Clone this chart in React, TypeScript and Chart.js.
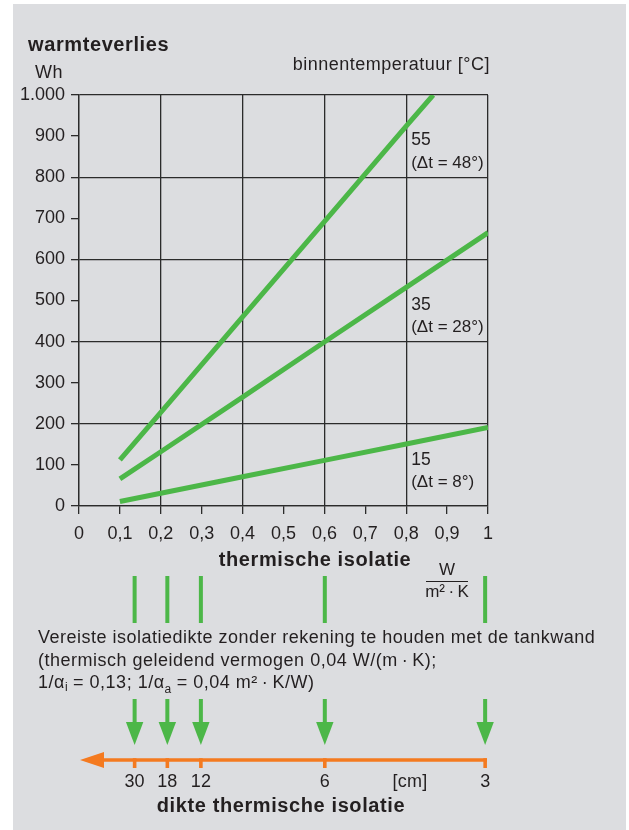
import { useEffect, useRef } from 'react';
import { Chart, registerables } from 'chart.js';

Chart.register(...registerables);

// ---- data ----
const x55 = [0.1, 0.2, 0.4, 0.6, 0.8, 0.866];
const loss55 = [112, 228, 460, 692, 924, 1000];
const x35 = [0.1, 0.2, 0.4, 0.6, 0.8, 1.0];
const loss35 = [66, 132, 265, 399, 532, 665];
const x15 = [0.1, 0.2, 0.4, 0.6, 0.8, 1.0];
const loss15 = [11, 31, 71, 111, 151, 191];

const seriesTemp = ['55', '35', '15'];
const seriesDelta = ['(Δt = 48°)', '(Δt = 28°)', '(Δt = 8°)'];
const labelAnchorX = 0.8;
const labelValueTop = [890, 489, 112];
const labelValueBottom = [835, 435, 58];

const thicknessU = [0.136, 0.216, 0.298, 0.601, 0.993];
const thicknessCm = ['30', '18', '12', '6', '3'];

const paragraphLines = [
  'Vereiste isolatiedikte zonder rekening te houden met de tankwand',
  '(thermisch geleidend vermogen 0,04 W/(m\u2009·\u2009K);',
];

// ---- styles ----
const GREEN = '#4cb748';
const ORANGE = '#f47a20';
const TEXT = '#231f20';
const GRID = '#2b2b2b';
const PANEL = '#dcdde0';
const FONT = '"Liberation Sans", Arial, Helvetica, sans-serif';

function setFont(ctx: CanvasRenderingContext2D, size: number, bold = false, spacing = 0) {
  ctx.font = `${bold ? 'bold ' : ''}${size}px ${FONT}`;
  (ctx as any).letterSpacing = `${spacing}px`;
}

function text(
  ctx: CanvasRenderingContext2D,
  s: string,
  x: number,
  y: number,
  size: number,
  align: CanvasTextAlign = 'left',
  bold = false,
  spacing = 0
) {
  setFont(ctx, size, bold, spacing);
  ctx.textAlign = align;
  ctx.textBaseline = 'middle';
  ctx.fillStyle = TEXT;
  ctx.fillText(s, x, y);
}

function runs(ctx: CanvasRenderingContext2D, parts: [string, number, number][], x: number, y: number) {
  let cx = x;
  ctx.textAlign = 'left';
  ctx.textBaseline = 'middle';
  ctx.fillStyle = TEXT;
  for (const [s, size, dy] of parts) {
    setFont(ctx, size, false, size > 14 ? 0.5 : 0);
    ctx.fillText(s, cx, y + dy);
    cx += ctx.measureText(s).width;
  }
}

const bgPlugin = {
  id: 'bg',
  beforeDraw(chart: any) {
    const ctx = chart.ctx as CanvasRenderingContext2D;
    ctx.save();
    ctx.fillStyle = '#ffffff';
    ctx.fillRect(0, 0, chart.width, chart.height);
    ctx.fillStyle = PANEL;
    ctx.fillRect(13, 4, 613, chart.height - 4);
    ctx.restore();
  },
};

const drawPlugin = {
  id: 'extras',
  afterDraw(chart: any) {
    const ctx = chart.ctx as CanvasRenderingContext2D;
    const xs = chart.scales.x;
    const ys = chart.scales.y;
    ctx.save();

    // titles
    text(ctx, 'warmteverlies', 28, 45, 20, 'left', true, 0.6);
    text(ctx, 'Wh', 35, 73, 18, 'left', false, 0.5);
    text(ctx, 'binnentemperatuur [°C]', 490, 65, 18, 'right', false, 0.5);

    // series labels
    const lx = xs.getPixelForValue(labelAnchorX) + 5;
    for (let i = 0; i < seriesTemp.length; i++) {
      text(ctx, seriesTemp[i], lx, ys.getPixelForValue(labelValueTop[i]), 17.5, 'left', false, 0);
      text(ctx, seriesDelta[i], lx, ys.getPixelForValue(labelValueBottom[i]), 17, 'left', false, 0);
    }

    // x axis title + unit fraction
    text(ctx, 'thermische isolatie', 315, 560, 20, 'center', true, 0.6);
    text(ctx, 'W', 447, 570, 17, 'center');
    ctx.strokeStyle = TEXT;
    ctx.lineWidth = 1;
    ctx.beginPath();
    ctx.moveTo(426, 581.5);
    ctx.lineTo(468, 581.5);
    ctx.stroke();
    text(ctx, 'm²\u2009·\u2009K', 447, 592, 17, 'center');

    // green connectors and arrows
    ctx.strokeStyle = GREEN;
    ctx.fillStyle = GREEN;
    for (const u of thicknessU) {
      const px = xs.getPixelForValue(u);
      ctx.lineWidth = 4;
      ctx.beginPath();
      ctx.moveTo(px, 576);
      ctx.lineTo(px, 623);
      ctx.moveTo(px, 699);
      ctx.lineTo(px, 724);
      ctx.stroke();
      ctx.beginPath();
      ctx.moveTo(px - 8.7, 722);
      ctx.lineTo(px + 8.7, 722);
      ctx.lineTo(px, 745);
      ctx.closePath();
      ctx.fill();
    }

    // paragraph
    text(ctx, paragraphLines[0], 38, 638, 18, 'left', false, 0.5);
    text(ctx, paragraphLines[1], 38, 661.5, 18, 'left', false, 0.5);
    runs(
      ctx,
      [
        ['1/α', 18, 0],
        ['i', 12, 4],
        [' = 0,13; 1/α', 18, 0],
        ['a', 12, 6],
        [' = 0,04 m²\u2009·\u2009K/W)', 18, 0],
      ],
      38,
      683.5
    );

    // orange thickness axis
    const right = xs.getPixelForValue(thicknessU[thicknessU.length - 1]);
    ctx.strokeStyle = ORANGE;
    ctx.fillStyle = ORANGE;
    ctx.lineWidth = 3.6;
    ctx.lineCap = 'butt';
    ctx.beginPath();
    ctx.moveTo(100, 760);
    ctx.lineTo(right + 1.8, 760);
    ctx.stroke();
    ctx.beginPath();
    ctx.moveTo(80, 760);
    ctx.lineTo(104, 752);
    ctx.lineTo(104, 768);
    ctx.closePath();
    ctx.fill();
    for (const u of thicknessU) {
      const px = xs.getPixelForValue(u);
      ctx.beginPath();
      ctx.moveTo(px, 758.2);
      ctx.lineTo(px, 768);
      ctx.stroke();
    }
    for (let i = 0; i < thicknessU.length; i++) {
      text(ctx, thicknessCm[i], xs.getPixelForValue(thicknessU[i]), 782.5, 18, 'center');
    }
    text(ctx, '[cm]', 410, 782.5, 18, 'center', false, 0.3);
    text(ctx, 'dikte thermische isolatie', 281, 806.5, 20, 'center', true, 0.6);

    ctx.restore();
  },
};

function makeSet(xv: number[], yv: number[]) {
  return {
    data: xv.map((x, i) => ({ x, y: yv[i] })),
    showLine: true,
    borderColor: GREEN,
    backgroundColor: GREEN,
    borderWidth: 5,
    pointRadius: 0,
    borderCapStyle: 'butt' as const,
    clip: 0,
    tension: 0,
  };
}

const evenX = (c: any) => (Math.round((c.tick?.value ?? 0) * 10) % 2 === 0 ? GRID : 'rgba(0,0,0,0)');
const evenY = (c: any) => (Math.round((c.tick?.value ?? 0) / 100) % 2 === 0 ? GRID : 'rgba(0,0,0,0)');

export default function App() {
  const ref = useRef<HTMLCanvasElement>(null);

  useEffect(() => {
    if (!ref.current) return;
    const chart = new Chart(ref.current, {
      type: 'scatter',
      data: {
        datasets: [makeSet(x55, loss55), makeSet(x35, loss35), makeSet(x15, loss15)] as any,
      },
      options: {
        animation: false,
        responsive: false,
        events: [],
        layout: { padding: { left: 0, top: 95, right: 629 - 488, bottom: 830 - 506 - 40 } },
        plugins: { legend: { display: false }, tooltip: { enabled: false } },
        scales: {
          x: {
            type: 'linear',
            min: 0,
            max: 1,
            afterFit: (s: any) => {
              s.height = 40;
            },
            ticks: {
              stepSize: 0.1,
              autoSkip: false,
              maxRotation: 0,
              padding: 9,
              color: TEXT,
              font: { size: 18, family: FONT },
              callback: (v: any) => {
                const n = Math.round(Number(v) * 10);
                if (n === 0) return '0';
                if (n === 10) return '1';
                return '0,' + n;
              },
            },
            grid: { color: evenX, tickColor: GRID, lineWidth: 1.3, tickLength: 8, drawTicks: true },
            border: { display: true, color: GRID, width: 1.3 },
          },
          y: {
            type: 'linear',
            min: 0,
            max: 1000,
            afterFit: (s: any) => {
              s.width = 79;
            },
            ticks: {
              stepSize: 100,
              autoSkip: false,
              padding: 6,
              color: TEXT,
              font: { size: 18, family: FONT },
              callback: (v: any) => (Number(v) === 1000 ? '1.000' : String(v)),
            },
            grid: { color: evenY, tickColor: GRID, lineWidth: 1.3, tickLength: 8, drawTicks: true },
            border: { display: true, color: GRID, width: 1.3 },
          },
        },
      } as any,
      plugins: [bgPlugin, drawPlugin],
    });
    return () => chart.destroy();
  }, []);

  return (
    <div style={{ position: 'fixed', left: 0, top: 0, width: 629, height: 830 }}>
      <canvas ref={ref} width={629} height={830} style={{ width: 629, height: 830, display: 'block' }} />
    </div>
  );
}
